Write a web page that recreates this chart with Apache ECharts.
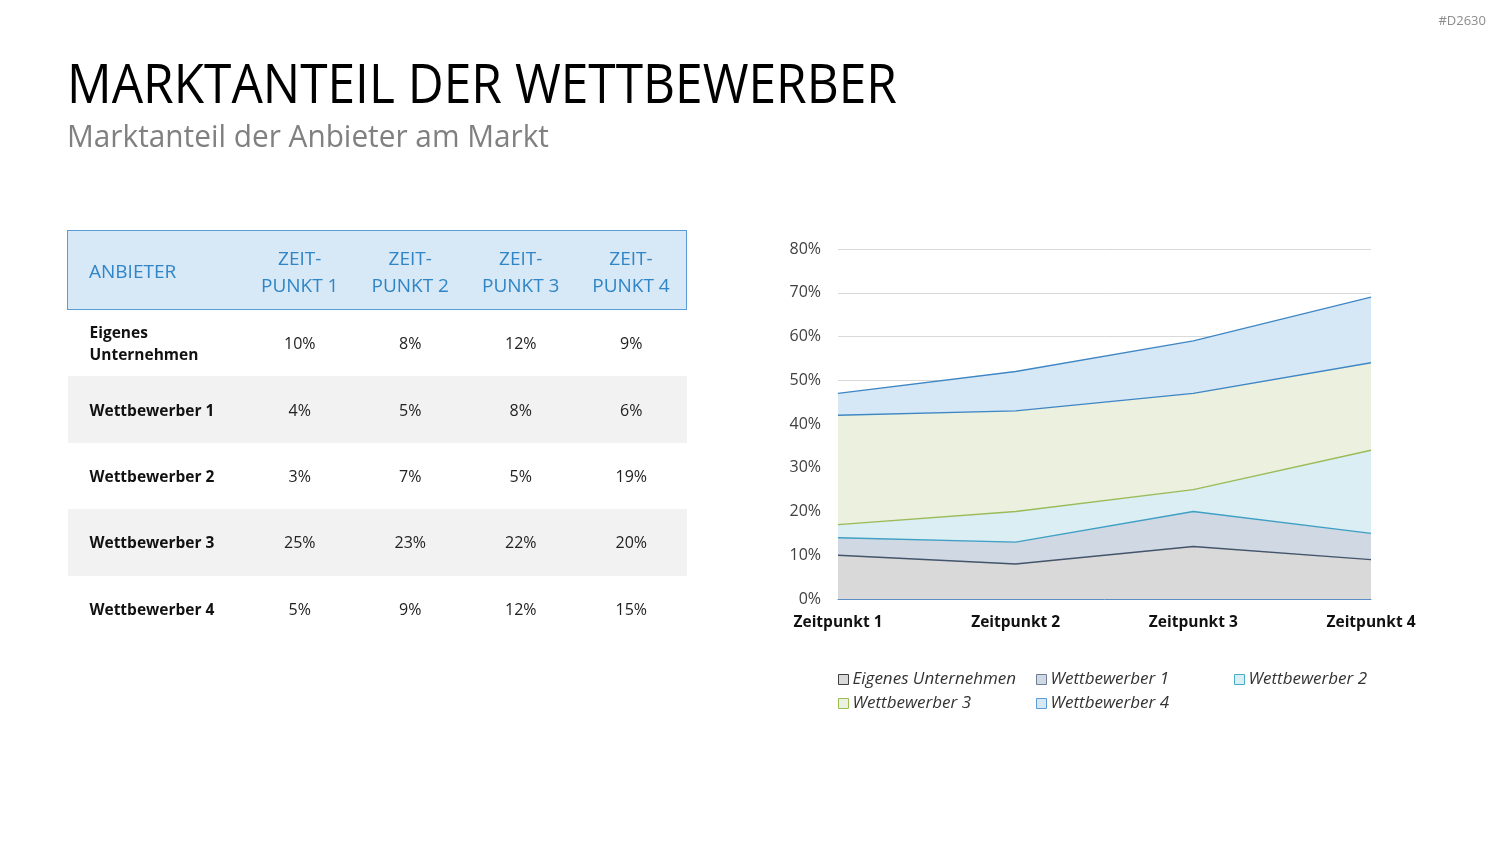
<!DOCTYPE html>
<html>
<head>
<meta charset="utf-8">
<script src="https://cdn.jsdelivr.net/npm/echarts@6/dist/echarts.min.js"></script>
<style>
  html, body { margin: 0; padding: 0; background: #fff; }
  body { width: 1500px; height: 844px; position: relative; overflow: hidden; font-family: "Open Sans", sans-serif; }
  #chart { position: absolute; left: 0; top: 0; width: 1500px; height: 844px; }
  .fit { position: absolute; white-space: nowrap; transform-origin: 0 0; }
  #code { right: 14px; top: 11px; font-size: 13px; color: #8c8c8c; position: absolute; }
  #title { left: 67px; top: 49px; font-size: 55px; color: #000; line-height: 1.2; }
  #subtitle { left: 67px; top: 117px; font-size: 31px; color: #808080; line-height: 1.2; }
  table { position: absolute; left: 67px; top: 230px; width: 620px; border-collapse: collapse; table-layout: fixed; z-index: 2; }
  th { background: #d7e8f6; color: #2f85c6; font-weight: normal; font-size: 19px; line-height: 27px; height: 75px; border-top: 1px solid #5b9bd5; border-bottom: 1px solid #5b9bd5; padding: 3px 0 0 0; box-sizing: content-box; }
  th:first-child { border-left: 1px solid #5b9bd5; text-align: left; padding-left: 21px; }
  th:last-child { border-right: 1px solid #5b9bd5; }
  td { font-size: 16px; color: #222; text-align: center; height: 66.4px; padding: 0; line-height: 22px; }
  td:first-child { text-align: left; font-weight: bold; font-size: 15.5px; padding-left: 22px; color: #111; }
  tr.alt td { background: #f2f2f2; }
</style>
</head>
<body>
<div id="chart"></div>
<div id="code">#D2630</div>
<div id="title" class="fit">MARKTANTEIL DER WETTBEWERBER</div>
<div id="subtitle" class="fit">Marktanteil der Anbieter am Markt</div>
<table id="tbl"></table>
<script>
// Daten
var categories = ['Zeitpunkt 1', 'Zeitpunkt 2', 'Zeitpunkt 3', 'Zeitpunkt 4']
var tableHeads = ['ZEIT-\nPUNKT 1', 'ZEIT-\nPUNKT 2', 'ZEIT-\nPUNKT 3', 'ZEIT-\nPUNKT 4']
var seriesNames = ['Eigenes Unternehmen', 'Wettbewerber 1', 'Wettbewerber 2', 'Wettbewerber 3', 'Wettbewerber 4']
var eigenes = [10, 8, 12, 9]
var wettbewerber1 = [4, 5, 8, 6]
var wettbewerber2 = [3, 7, 5, 19]
var wettbewerber3 = [25, 23, 22, 20]
var wettbewerber4 = [5, 9, 12, 15]
var yTicks = [0, 10, 20, 30, 40, 50, 60, 70, 80]

var values = [eigenes, wettbewerber1, wettbewerber2, wettbewerber3, wettbewerber4]
var fills = ['#d9d9d9', '#cfd8e3', '#daeef3', '#ebf1de', '#d6e8f6']
var lines = ['#44546a', '#3f9fc4', '#9bbb59', '#3f86c4', '#3f86c4']
var boxBorders = ['#404040', '#6f7f95', '#4bacc6', '#9bbb59', '#5b9bd5']

/* Tabelle */
var html = '<colgroup><col style="width:177px">' + tableHeads.map(function () { return '<col>' }).join('') + '</colgroup>'
html += '<tr><th>ANBIETER</th>' + tableHeads.map(function (h) { return '<th>' + h.replace('\n', '<br>') + '</th>' }).join('') + '</tr>'
seriesNames.forEach(function (name, i) {
  html += '<tr' + (i % 2 === 1 ? ' class="alt"' : '') + '><td>' + (i === 0 ? 'Eigenes<br>Unternehmen' : name) + '</td>' +
    values[i].map(function (v) { return '<td>' + v + '%</td>' }).join('') + '</tr>'
})
document.getElementById('tbl').innerHTML = html

/* Titel auf Breite bringen */
function fit (id, w) {
  var el = document.getElementById(id)
  el.style.transform = 'scaleX(' + (w / el.getBoundingClientRect().width) + ')'
}
fit('title', 830)
fit('subtitle', 482)

/* Diagramm */
var chart = echarts.init(document.getElementById('chart'))
var legendPos = [[838, 666], [1036, 666], [1234, 666], [838, 690], [1036, 690]]
chart.setOption({
  animation: false,
  textStyle: {fontFamily: 'Open Sans'},
  grid: {left: 838, top: 249, width: 533, height: 350, containLabel: false},
  legend: seriesNames.map(function (name, i) {
    return {
      left: legendPos[i][0] - 5,
      top: legendPos[i][1],
      icon: 'rect',
      itemWidth: 10,
      itemHeight: 10,
      itemGap: 5,
      textStyle: {fontSize: 17, fontStyle: 'italic', color: '#333', padding: [0, 0, 0, -1]},
      data: [{name: name, itemStyle: {color: fills[i], borderColor: boxBorders[i], borderWidth: 1}}]
    }
  }),
  xAxis: {
    type: 'category',
    boundaryGap: false,
    data: categories,
    axisTick: {show: false},
    axisLine: {show: true, lineStyle: {color: '#5b8ec4', width: 1}},
    axisLabel: {fontSize: 15.5, fontWeight: 'bold', color: '#111', margin: 16}
  },
  yAxis: {
    type: 'value',
    min: yTicks[0],
    max: yTicks[yTicks.length - 1],
    interval: 10,
    axisLine: {show: false},
    axisTick: {show: false},
    splitLine: {lineStyle: {color: '#d9d9d9', width: 1}},
    axisLabel: {formatter: '{value}%', fontSize: 16, color: '#404040', margin: 17}
  },
  series: seriesNames.map(function (name, i) {
    return {
      name: name,
      type: 'line',
      stack: 'gesamt',
      symbol: 'none',
      data: values[i],
      z: 10 - i,
      itemStyle: {color: fills[i]},
      lineStyle: {color: lines[i], width: 1.3},
      areaStyle: {color: fills[i], opacity: 1}
    }
  })
})
</script>
</body>
</html>
